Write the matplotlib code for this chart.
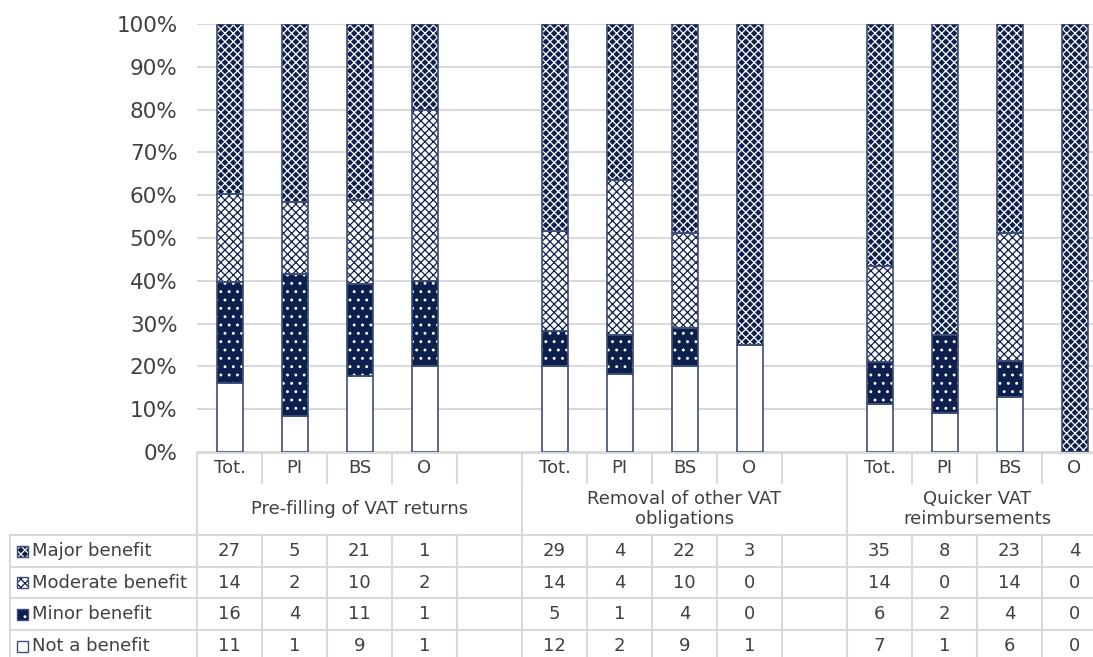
import numpy as np
import matplotlib
matplotlib.use("Agg")
import matplotlib.pyplot as plt
from matplotlib.patches import Rectangle
from matplotlib.ticker import PercentFormatter

# columns (blank spacer columns between the groups)
columns = ['Tot.', 'PI', 'BS', 'O', '', 'Tot.', 'PI', 'BS', 'O', '', 'Tot.', 'PI', 'BS', 'O']
groups = ['Pre-filling of VAT returns', 'Removal of other VAT\nobligations', 'Quicker VAT\nreimbursements']
group_spans = [(0, 5), (5, 10), (10, 14)]

series = ['Major benefit', 'Moderate benefit', 'Minor benefit', 'Not a benefit']
major = [27, 5, 21, 1, None, 29, 4, 22, 3, None, 35, 8, 23, 4]
moderate = [14, 2, 10, 2, None, 14, 4, 10, 0, None, 14, 0, 14, 0]
minor = [16, 4, 11, 1, None, 5, 1, 4, 0, None, 6, 2, 4, 0]
not_benefit = [11, 1, 9, 1, None, 12, 2, 9, 1, None, 7, 1, 6, 0]

NAVY = '#0d1f4c'
EDGE = '#3d4d78'
GRID = '#d9d9d9'
TXT = '#404040'
W, H = 1093, 657

# (facecolor, hatch colour, hatch) for each series
styles = {
    'Major benefit': (NAVY, 'white', 'xxxx'),
    'Moderate benefit': ('white', NAVY, 'xxxx'),
    'Minor benefit': (NAVY, 'white', '..'),
    'Not a benefit': ('white', NAVY, ''),
}

plt.rcParams['font.family'] = 'DejaVu Sans'
plt.rcParams['hatch.linewidth'] = 0.9

fig = plt.figure(figsize=(W / 100, H / 100), dpi=100)
ax = fig.add_axes([197 / W, 1 - 452 / H, 910 / W, 428 / H])

data = {'Major benefit': major, 'Moderate benefit': moderate,
        'Minor benefit': minor, 'Not a benefit': not_benefit}
idx = [i for i, c in enumerate(columns) if c]
x = np.array(idx) + 0.5
vals = {k: np.array([v[i] for i in idx], dtype=float) for k, v in data.items()}
totals = sum(vals.values())

bottom = np.zeros(len(idx))
for name in ['Not a benefit', 'Minor benefit', 'Moderate benefit', 'Major benefit']:
    share = vals[name] / totals
    fc, hc, hatch = styles[name]
    ax.bar(x, share, 0.4, bottom=bottom, color=fc, edgecolor=hc, hatch=hatch, linewidth=0, zorder=2)
    ax.bar(x, share, 0.4, bottom=bottom, fill=False, edgecolor=EDGE, linewidth=1.2, zorder=3)
    bottom += share

ax.set_xlim(0, 14)
ax.set_ylim(0, 1)
ax.set_yticks(np.arange(0, 1.01, 0.1))
ax.yaxis.set_major_formatter(PercentFormatter(1.0, decimals=0))
ax.tick_params(axis='y', length=0, pad=14, labelsize=15.5, labelcolor=TXT)
ax.set_xticks([])
ax.grid(axis='y', color=GRID, linewidth=1.5, zorder=0)
for s in ax.spines.values():
    s.set_visible(False)

# data table below the chart, y in pixels from the top
tax = fig.add_axes([197 / W, 0, 910 / W, 205 / H])
tax.set_xlim(0, 14)
tax.set_ylim(657, 452)
tax.axis('off')
tax.patch.set_visible(False)

lab_left = (10 - 197) / 65.0
head_top, head_bot, grp_bot = 453, 483, 535
rows = [535, 567, 598, 630, 662]
lk = dict(color=GRID, linewidth=1.5, clip_on=False)

tax.plot([0, 14], [head_top, head_top], **lk)
tax.plot([0, 0], [head_top, grp_bot], **lk)
for i in range(1, 14):
    tax.plot([i, i], [head_top, head_bot], **lk)
for a, b in group_spans:
    tax.plot([b, b], [head_top, grp_bot], **lk)
for y in rows:
    tax.plot([lab_left, 14], [y, y], **lk)
for i in [lab_left] + list(range(0, 15)):
    tax.plot([i, i], [rows[0], rows[-1]], **lk)

fs = 13
for i, c in enumerate(columns):
    tax.text(i + 0.5, 468, c, ha='center', va='center', fontsize=fs, color=TXT)
for g, (a, b) in zip(groups, group_spans):
    tax.text((a + b) / 2, 509, g, ha='center', va='center', fontsize=fs, color=TXT,
             linespacing=1.1)

sq = 11 / 65.0
for r, name in enumerate(series):
    yc = (rows[r] + rows[r + 1]) / 2
    fc, hc, hatch = styles[name]
    tax.add_patch(Rectangle(((17 - 197) / 65.0, yc - 5.5), sq, 11, facecolor=fc, edgecolor=hc,
                            hatch=hatch, linewidth=0, clip_on=False))
    tax.add_patch(Rectangle(((17 - 197) / 65.0, yc - 5.5), sq, 11, fill=False, edgecolor=EDGE,
                            linewidth=1, clip_on=False))
    tax.text((32 - 197) / 65.0, yc, name, ha='left', va='center', fontsize=fs, color=TXT,
             clip_on=False)
    for i, v in enumerate(data[name]):
        if v is not None:
            tax.text(i + 0.5, yc, str(v), ha='center', va='center', fontsize=fs, color=TXT)

fig.savefig('out.png', dpi=100)
